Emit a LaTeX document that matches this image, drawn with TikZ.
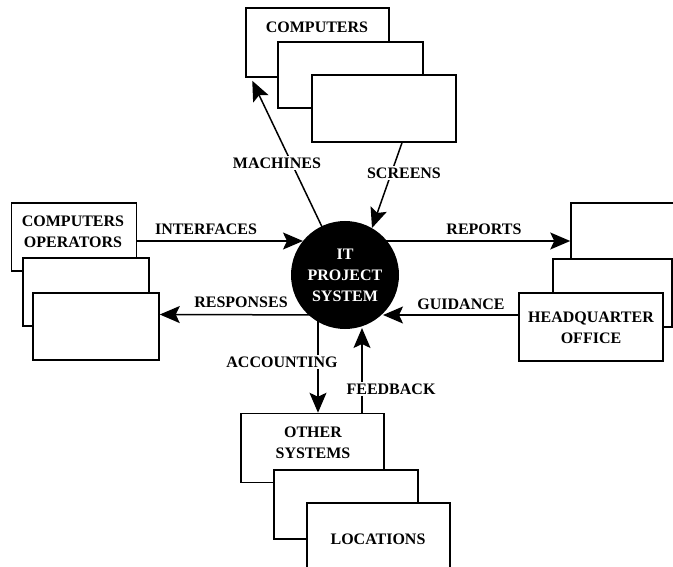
\documentclass[tikz,border=0pt]{standalone}
\usepackage{fontspec}
\setmainfont{Liberation Serif}
\usetikzlibrary{arrows.meta,calc}
\begin{document}
\begin{tikzpicture}[x=1pt,y=-1pt,
  box/.style={draw,fill=white,line width=1.5pt,inner sep=0pt},
  lbl/.style={font=\bfseries\fontsize{16}{21}\selectfont,align=center,inner sep=1pt},
  elbl/.style={lbl,fill=white,inner sep=2pt},
  arr/.style={line width=1.5pt,-{Stealth[length=20pt,width=17pt,inset=4pt]}}]
\useasboundingbox (0,0) rectangle (673,567);
\clip (0,0) rectangle (673,567);
% top stack
\node[box,minimum width=143pt,minimum height=69pt] (t1) at (317.5,42.5) {};
\node[lbl] (t1txt) at (317,27) {COMPUTERS};
\node[box,minimum width=145pt,minimum height=66pt] (t2) at (350.5,75) {};
\node[box,minimum width=144pt,minimum height=67pt] (t3) at (384,108.5) {};
% left stack
\node[box,minimum width=125pt,minimum height=68pt] (l1) at (74,237) {};
\node[lbl] (l1txt) at (73,231.5) {COMPUTERS\\OPERATORS};
\node[box,minimum width=126pt,minimum height=68pt] (l2) at (86,292) {};
\node[box,minimum width=126pt,minimum height=67pt] (l3) at (96,326.5) {};
% right stack
\node[box,minimum width=120pt,minimum height=68pt] (r1) at (631,237) {};
\node[box,minimum width=119pt,minimum height=68pt] (r2) at (612.5,293) {};
\node[box,minimum width=144pt,minimum height=68pt] (r3) at (591,327) {};
\node[lbl] (r3txt) at (591,327.5) {HEADQUARTER\\OFFICE};
% bottom stack
\node[box,minimum width=143pt,minimum height=69pt] (b1) at (312.5,448) {};
\node[lbl] (b1txt) at (313,443) {OTHER\\SYSTEMS};
\node[box,minimum width=144pt,minimum height=69pt] (b2) at (346,504.5) {};
\node[box,minimum width=143pt,minimum height=74pt] (b3) at (378.5,540) {};
\node[lbl] (b3txt) at (378,539) {LOCATIONS};
% connectors
\draw[arr] (345,275) -- ($(t1.south west)+(7,3)$);
\draw[arr] ($(t3.south)+(18,0)$) -- (372,228);
\draw[arr] ($(l1.east)+(0,4)$) -- (303,241);
\draw[arr] (345,241) -- ($(r1.west)+(0,4)$);
\draw[arr] (345,315) -- ($(l3.east)+(0,-12)$);
\draw[arr] ($(r3.west)+(0,-12)$) -- (383,315);
\draw[arr] (318,275) -- ($(b1.north)+(5.5,0)$);
\draw[arr] ($(b1.north)+(49.5,0)$) -- (362,328);
% centre
\node[circle,fill=black,minimum size=108pt,inner sep=0pt,lbl,text=white] (c) at (345,275) {IT\\PROJECT\\SYSTEM};
% edge labels
\node[elbl] (machines) at (277,163) {MACHINES};
\node[elbl] (screens) at (404,173) {SCREENS};
\node[elbl] (interfaces) at (206,229) {INTERFACES};
\node[elbl] (responses) at (241,302) {RESPONSES};
\node[elbl] (reports) at (484,229) {REPORTS};
\node[elbl] (guidance) at (461,304) {GUIDANCE};
\node[elbl] (accounting) at (282,362) {ACCOUNTING};
\node[elbl] (feedback) at (391,389) {FEEDBACK};
\end{tikzpicture}
\end{document}
